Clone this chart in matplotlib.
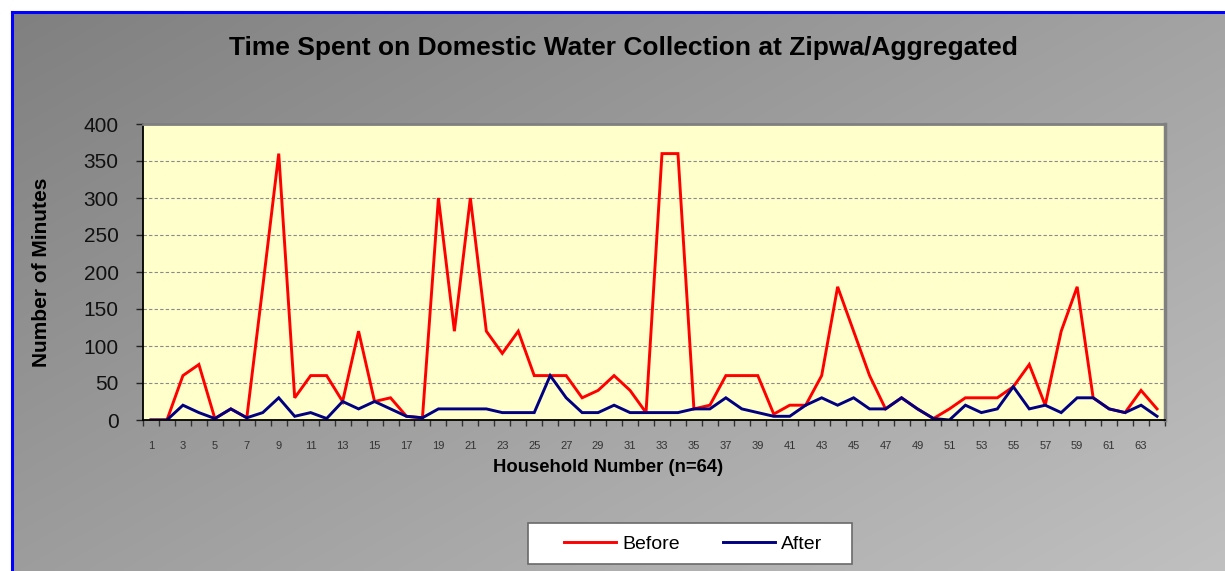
import numpy as np
import matplotlib
matplotlib.use("Agg")
import matplotlib.pyplot as plt
from matplotlib.lines import Line2D
from matplotlib.patches import Rectangle

plt.rcParams['font.family'] = ['Liberation Sans', 'DejaVu Sans']

households = list(range(1, 65))
before = [0, 0, 60, 75, 2, 15, 3, 180, 360, 30,
          60, 60, 25, 120, 25, 30, 5, 3, 300, 120,
          300, 120, 90, 120, 60, 60, 60, 30, 40, 60,
          40, 10, 360, 360, 15, 20, 60, 60, 60, 8,
          20, 20, 60, 180, 120, 60, 15, 30, 15, 2,
          15, 30, 30, 30, 45, 75, 20, 120, 180, 30,
          15, 10, 40, 15]
after = [0, 0, 20, 10, 2, 15, 3, 10, 30, 5,
         10, 2, 25, 15, 25, 15, 5, 3, 15, 15,
         15, 15, 10, 10, 10, 60, 30, 10, 10, 20,
         10, 10, 10, 10, 15, 15, 30, 15, 10, 5,
         5, 20, 30, 20, 30, 15, 15, 30, 15, 2,
         0, 20, 10, 15, 45, 15, 20, 10, 30, 30,
         15, 10, 20, 5]
y_ticks = [0, 50, 100, 150, 200, 250, 300, 350, 400]
x_labels = list(range(1, 64, 2))

W, H = 1225, 571
fig = plt.figure(figsize=(W / 100, H / 100), dpi=100)
fig.patch.set_facecolor('white')

# gradient background
bg = fig.add_axes([12 / W, 0, 1 - 12 / W, 1 - 12 / H], zorder=-10)
gx = np.linspace(0, 1, 300)
gy = np.linspace(0, 1, 150)
GX, GY = np.meshgrid(gx, gy)
val = (128 + 64 * (0.55 * GX + 0.45 * GY)) / 255.0
img = np.dstack([val, val, val])
bg.imshow(img, aspect='auto', extent=[0, 1, 1, 0], interpolation='bilinear')
bg.set_axis_off()
fig.add_artist(Line2D([12 / W, 12 / W], [0, 1 - 12 / H], color='#0000ff', lw=2.2, transform=fig.transFigure))
fig.add_artist(Line2D([12 / W, 1], [1 - 12 / H, 1 - 12 / H], color='#0000ff', lw=2.2, transform=fig.transFigure))

ax = fig.add_axes([143 / W, 1 - 420 / H, (1165 - 143) / W, (420 - 124) / H])
ax.set_facecolor('#FFFFCC')
l1, = ax.plot(households, before, color='#FF0000', lw=2.1, solid_joinstyle='miter')
l2, = ax.plot(households, after, color='#000080', lw=2.1, solid_joinstyle='miter')

ax.set_xlim(0.5, 64.5)
ax.set_ylim(0, 400)
ax.set_yticks(y_ticks)
ax.set_yticklabels([str(v) for v in y_ticks], fontsize=15, color='#111111')
ax.tick_params(axis='y', direction='out', length=5, width=1, pad=12.5, color='#222222')

ax.set_xticks(np.arange(0.5, 65, 1))
ax.set_xticklabels([])
ax.tick_params(axis='x', which='major', direction='out', length=4, width=1, color='#333333')
ax.set_xticks(x_labels, minor=True)
ax.set_xticklabels([str(v) for v in x_labels], minor=True, fontsize=8, color='#333333')
ax.tick_params(axis='x', which='minor', length=0, pad=15)

for yv in y_ticks[1:-1]:
    ax.axhline(yv, color='#8a8a8a', lw=0.8, ls=(0, (3, 2)), zorder=0.5)

ax.spines['left'].set_color('#000000')
ax.spines['left'].set_linewidth(1.3)
ax.spines['bottom'].set_color('#000000')
ax.spines['bottom'].set_linewidth(1.3)
ax.spines['top'].set_color('#808080')
ax.spines['top'].set_linewidth(2)
ax.spines['right'].set_color('#808080')
ax.spines['right'].set_linewidth(2.5)

fig.text(623 / W, 1 - 48 / H, 'Time Spent on Domestic Water Collection at Zipwa/Aggregated',
         ha='center', va='center', fontsize=19, fontweight='bold', color='#000000')
fig.text(42 / W, 1 - 272 / H, 'Number of Minutes', rotation=90, ha='center', va='center',
         fontsize=15, fontweight='bold', color='#000000')
fig.text(608 / W, 1 - 467 / H, 'Household Number (n=64)', ha='center', va='center',
         fontsize=13.3, fontweight='bold', color='#000000')

# legend box
fig.add_artist(Rectangle((528 / W, 1 - 564 / H), (852 - 528) / W, (564 - 523) / H,
                         transform=fig.transFigure, facecolor='white', edgecolor='#6a6a6a', lw=1.2, zorder=5))
leg = fig.legend([l1, l2], ['Before', 'After'], loc='center', ncol=2,
                 bbox_to_anchor=(693 / W, 1 - 544 / H), frameon=False, fontsize=14,
                 handlelength=2.7, handletextpad=0.3, columnspacing=2.2, borderpad=0)
leg.set_zorder(6)

fig.savefig('out.png', dpi=100)
